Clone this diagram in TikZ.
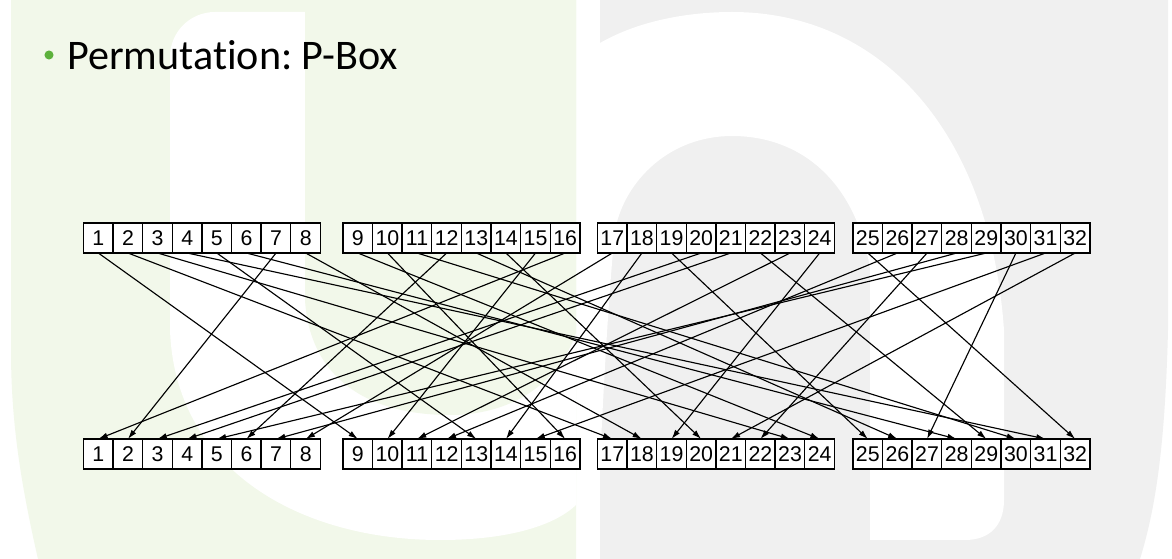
\documentclass[tikz,border=0pt]{standalone}
\usepackage{fontspec}
\setmainfont{Liberation Sans}
\newfontfamily\titlefont[Ligatures=NoCommon]{Carlito}
\usetikzlibrary{arrows.meta}
\definecolor{wmgreen}{RGB}{242,248,234}
\definecolor{wmgray}{RGB}{240,240,240}
\definecolor{bullgreen}{RGB}{93,177,60}
\frenchspacing
\begin{document}
\begin{tikzpicture}[x=0.75pt,y=-0.75pt,
  cell/.style={draw, line width=1.05pt, minimum width=22.35pt, minimum height=22.5pt,
    inner sep=0pt, outer sep=0pt, fill=white, font=\fontsize{16}{18}\selectfont},
  arr/.style={-{Latex[length=7pt,width=4.4pt]}, line width=0.85pt}]
\useasboundingbox (0,0) rectangle (1172,559);
% background watermark
\fill[white] (0,0) rectangle (1172,559);
\fill[wmgreen] (11,0) -- (576,0) -- (576,559) -- (38,559)
  .. controls (20,480) and (11,420) .. (11,350) -- cycle;
\fill[white] (305,12) -- (215,12) .. controls (190,12) and (170,32) .. (170,57)
  -- (170,330) .. controls (175,470) and (300,540) .. (440,540)
  .. controls (510,540) and (555,525) .. (576,505) -- (576,12) -- cycle;
\fill[wmgreen] (305,0) -- (305,300) .. controls (310,380) and (370,415) .. (450,415)
  .. controls (515,415) and (560,380) .. (576,333) -- (576,0) -- cycle;
\fill[wmgray] (600,0) -- (1168,0) -- (1168,330) .. controls (1165,450) and (1155,510) .. (1140,559)
  -- (600,559) -- cycle;
\fill[white] (600,43) .. controls (640,20) and (690,12) .. (732,12)
  .. controls (880,12) and (990,130) .. (1004,330) -- (1004,500)
  .. controls (1004,525) and (990,540) .. (965,540) -- (870,540) -- (870,268)
  .. controls (855,180) and (800,136) .. (732,136)
  .. controls (670,136) and (625,180) .. (615,230)
  .. controls (608,300) and (603,400) .. (600,464) -- cycle;
% title
\node[circle, fill=bullgreen, minimum size=6.8pt, inner sep=0pt] (bullet) at (49,55) {};
\node[anchor=base west, inner sep=0pt, font=\titlefont\fontsize{31.6}{36}\selectfont] (title) at (67,70) {Permutation: P-Box};
% cells
\foreach \i in {1,...,32}{
  \pgfmathtruncatemacro{\g}{int((\i-1)/8)}
  \pgfmathtruncatemacro{\k}{mod(\i-1,8)}
  \pgfmathsetmacro{\xs}{{83.5,343,597.5,853}[\g]}
  \pgfmathsetmacro{\xc}{\xs+(\k+0.5)*29.625}
  \node[cell] (t\i) at (\xc,238) {\i};
  \node[cell] (b\i) at (\xc,454) {\i};
}
% permutation connectors: output/input
\foreach \o/\s in {1/16,2/7,3/20,4/21,5/29,6/12,7/28,8/17,9/1,10/15,11/23,12/26,13/5,14/18,15/31,16/10,
  17/2,18/8,19/24,20/14,21/32,22/27,23/3,24/9,25/19,26/13,27/30,28/6,29/22,30/11,31/4,32/25}{
  \draw[arr] (t\s.south) -- (b\o.north);
}
\end{tikzpicture}
\end{document}
